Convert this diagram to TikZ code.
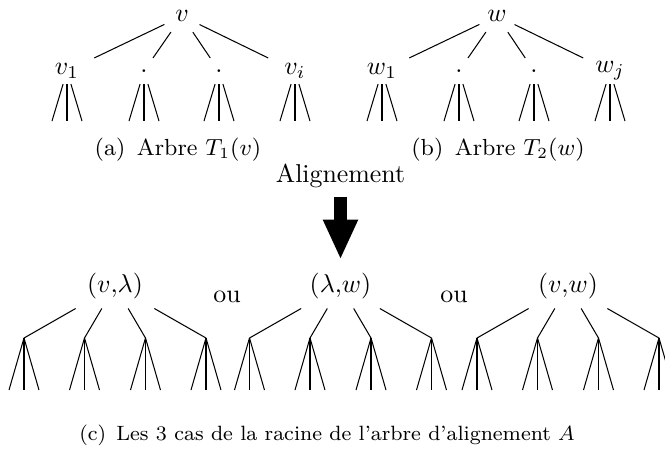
\documentclass[tikz,border=0pt]{standalone}
\usetikzlibrary{arrows.meta}
\begin{document}
\begin{tikzpicture}[x=0.3868pt,y=-0.3868pt,
  rootc/.style={circle,inner sep=0pt,minimum size=14.7pt},
  kid/.style={rectangle,inner sep=0pt,minimum width=20.9pt,minimum height=9.7pt},
  rootb/.style={rectangle,inner sep=0pt,minimum width=32.5pt,minimum height=17pt},
  link/.style={line width=0.4pt},
  captxt/.style={font=\small},
  capsmall/.style={font=\footnotesize},
  bigarrow/.style={line width=5pt,-{Triangle[length=15.5pt,width=12.5pt]},shorten >=1.5pt}]
\useasboundingbox (0,0) rectangle (665,461);
\clip (0,0) rectangle (665,461);
% ---- tree T1(v)
\node[rootc] (v) at (182,16) {$v$};
\node[kid] (v1) at (67,71) {$v_1$};
\node[kid] (v2) at (144,71) {.};
\node[kid] (v3) at (219,71) {.};
\node[kid] (v4) at (295,71) {$v_i$};
% ---- tree T2(w)
\node[rootc] (w) at (497,16) {$w$};
\node[kid] (w1) at (382,71) {$w_1$};
\node[kid] (w2) at (459,71) {.};
\node[kid] (w3) at (534,71) {.};
\node[kid] (w4) at (610,71) {$w_j$};
\foreach \c in {v1,v2,v3,v4} \draw[link] (v) -- (\c);
\foreach \c in {w1,w2,w3,w4} \draw[link] (w) -- (\c);
\foreach \c in {v1,v2,v3,v4,w1,w2,w3,w4}{
  \foreach \j/\gx in {a/-15,b/0,c/15}{
    \path (\c) ++(\gx,50) coordinate (\c\j);
    \draw[link] (\c) -- (\c\j);
  }
}
\node[captxt] (capa) at (178,150) {(a)\hskip 4.5pt Arbre $T_1(v)$};
\node[captxt] (capb) at (498,150) {(b)\hskip 4.5pt Arbre $T_2(w)$};
% ---- alignment arrow
\node (align) at (340.5,175.5) {Alignement};
% ---- alignment trees
\node[rootb] (rl) at (115,286) {$(v{,}\lambda)$};
\node[rootb] (rm) at (340.5,286) {$(\lambda{,}w)$};
\node[rootb] (rr) at (568,286) {$(v{,}w)$};
\node (ou1) at (227,296.4) {ou};
\node (ou2) at (454,296.4) {ou};
\draw[bigarrow] (align) -- (rm);
\foreach \r in {rl,rm,rr}{
  \foreach \i/\dx in {1/-91,2/-30.5,3/30.5,4/91}{
    \path (\r) ++(\dx,52) coordinate (\r\i);
    \draw[link] (\r) -- (\r\i);
    \foreach \j/\gx in {a/-15,b/0,c/15}{
      \path (\r\i) ++(\gx,52) coordinate (\r\i\j);
      \draw[link] (\r\i) -- (\r\i\j);
    }
  }
}
\node[capsmall] (capc) at (327,435) {(c)\hskip 4pt Les 3 cas de la racine de l'arbre d'alignement $A$};
\end{tikzpicture}
\end{document}
